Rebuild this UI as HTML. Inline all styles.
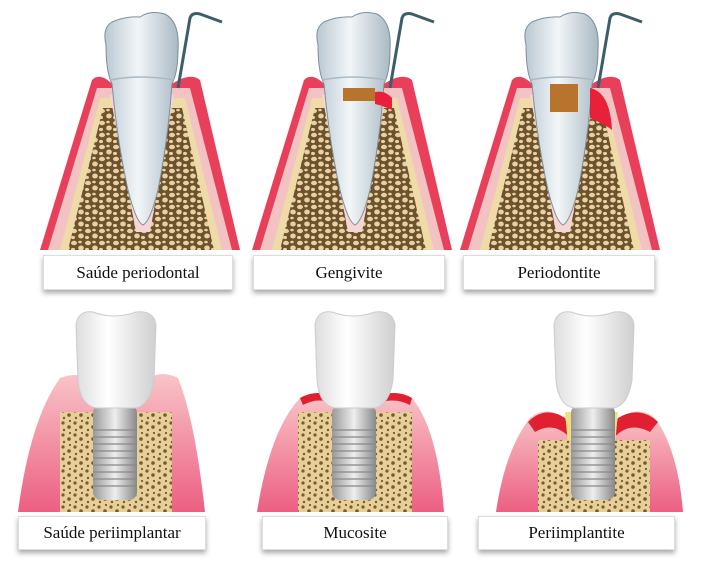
<!DOCTYPE html>
<html><head><meta charset="utf-8"><style>
body{margin:0;background:#fff;width:711px;height:562px;overflow:hidden;position:relative;font-family:"Liberation Serif",serif}
.lb{position:absolute;background:#fff;border:1px solid #ddd;box-shadow:0 3px 5px rgba(0,0,0,.35);font-size:17px;color:#111;text-align:center;box-sizing:border-box}
</style></head><body>
<svg width="711" height="562" style="position:absolute;left:0;top:0">
<defs>
<pattern id="bone" width="14" height="12" patternUnits="userSpaceOnUse">
<rect width="14" height="12" fill="#6e5230"/>
<ellipse cx="4" cy="3" rx="3" ry="2.2" fill="#e8d3a0"/><ellipse cx="11" cy="8" rx="2.8" ry="2.5" fill="#e8d3a0"/><ellipse cx="3" cy="9.5" rx="2" ry="1.6" fill="#e8d3a0"/><ellipse cx="10" cy="2" rx="1.8" ry="1.3" fill="#e8d3a0"/>
</pattern>
<pattern id="bone2" width="12" height="12" patternUnits="userSpaceOnUse">
<rect width="12" height="12" fill="#e6cf98"/>
<circle cx="3" cy="3" r="1.6" fill="#7a5a2e"/><circle cx="9" cy="7" r="1.8" fill="#7a5a2e"/><circle cx="4" cy="10" r="1.2" fill="#7a5a2e"/><circle cx="10" cy="1" r="1.1" fill="#7a5a2e"/>
</pattern>
<linearGradient id="tooth" x1="0" x2="1"><stop offset="0" stop-color="#b9c8d2"/><stop offset=".45" stop-color="#f2f6f8"/><stop offset="1" stop-color="#a9b9c4"/></linearGradient>
<linearGradient id="gum" x1="0" y1="0" x2="0" y2="1"><stop offset="0" stop-color="#f9c4c8"/><stop offset="1" stop-color="#ec5f82"/></linearGradient>
<linearGradient id="metal" x1="0" x2="1"><stop offset="0" stop-color="#999"/><stop offset=".5" stop-color="#eee"/><stop offset="1" stop-color="#888"/></linearGradient>
<linearGradient id="crown" x1="0" x2="1"><stop offset="0" stop-color="#ddd"/><stop offset=".4" stop-color="#fff"/><stop offset="1" stop-color="#cfcfcf"/></linearGradient>
<g id="top">
<path d="M40 250 L92 80 Q100 72 112 84 L172 84 Q190 72 200 80 L240 250 Z" fill="#e8405a"/>
<path d="M48 250 L97 88 L190 88 L232 250 Z" fill="#f3c2c3"/>
<path d="M60 250 L100 98 L185 98 L222 250 Z" fill="#eedba8"/>
<path d="M68 250 L103 108 L182 108 L214 250 Z" fill="url(#bone)"/>
<path d="M110 95 L174 95 L150 232 L136 232 Z" fill="#f6d5d5"/>
<path d="M106 45 Q102 28 112 22 Q125 16 140 17 Q150 10 165 14 Q180 22 178 50 Q178 72 172 84 Q168 140 158 190 Q150 222 143 225 Q136 222 128 190 Q117 140 112 84 Q106 72 106 45 Z" fill="url(#tooth)" stroke="#7c8f9a" stroke-width="1"/>
<path d="M110 80 Q140 74 174 80" fill="none" stroke="#a9b9c4" stroke-width="1.5"/>
<path d="M178 88 L190 18 Q192 12 200 14 L222 22" fill="none" stroke="#3d5d6a" stroke-width="3"/>
</g>
<g id="implant">
<rect x="75" y="105" width="44" height="95" rx="8" fill="url(#metal)"/>
<g stroke="#888" stroke-width="1.2"><line x1="75" y1="130" x2="119" y2="130"/><line x1="75" y1="137" x2="119" y2="137"/><line x1="75" y1="144" x2="119" y2="144"/><line x1="75" y1="151" x2="119" y2="151"/><line x1="75" y1="158" x2="119" y2="158"/><line x1="75" y1="165" x2="119" y2="165"/><line x1="75" y1="172" x2="119" y2="172"/><line x1="75" y1="179" x2="119" y2="179"/><line x1="75" y1="186" x2="119" y2="186"/></g>
<path d="M58 25 Q60 10 75 12 Q96 20 118 12 Q136 10 138 25 L136 80 Q132 105 118 108 L78 108 Q62 105 60 80 Z" fill="url(#crown)" stroke="#ccc"/>
</g>
</defs>
<use href="#top"/>
<use href="#top" transform="translate(212,0)"/>
<rect x="343" y="88" width="32" height="13" fill="#b8732d"/>
<path d="M375 92 Q385 90 392 98 L392 110 Q384 106 375 104Z" fill="#e8203a"/>
<use href="#top" transform="translate(420,0)"/>
<rect x="550" y="84" width="28" height="28" fill="#b8732d"/>
<path d="M590 88 Q610 92 612 130 Q606 125 590 118 Z" fill="#e8203a"/>

<!-- implant 1 -->
<path d="M18 512 Q30 420 60 378 Q75 372 90 378 L150 378 Q162 370 178 378 Q195 420 205 512 Z" fill="url(#gum)"/>
<rect x="60" y="412" width="112" height="100" fill="url(#bone2)"/>
<use href="#implant" transform="translate(18,300)"/>

<!-- implant 2 -->
<path d="M257 512 Q270 430 300 398 Q318 388 335 398 L375 398 Q395 388 412 398 Q438 430 444 512 Z" fill="url(#gum)"/>
<path d="M300 398 Q318 388 335 398 L335 405 Q320 396 303 405 Z" fill="#e02030"/>
<path d="M375 398 Q395 388 412 398 L410 405 Q392 396 375 405 Z" fill="#e02030"/>
<path d="M335 398 L345 410 L335 404Z M375 398 L365 410 L375 404Z" fill="#f5e27a"/>
<path d="M330 392 Q340 400 348 410 L336 410Z M380 392 Q370 400 362 410 L374 410Z" fill="#f3e07a"/>
<rect x="298" y="412" width="114" height="100" fill="url(#bone2)"/>
<use href="#implant" transform="translate(257,300)"/>

<!-- implant 3 -->
<path d="M496 512 Q505 450 530 418 Q545 405 565 418 L618 418 Q640 405 655 418 Q678 450 683 512 Z" fill="url(#gum)"/>
<path d="M528 422 Q545 405 565 418 L572 440 Q555 420 535 432 Z" fill="#e02030"/>
<path d="M658 422 Q640 405 618 418 L612 440 Q628 420 650 432 Z" fill="#e02030"/>
<path d="M565 412 L578 412 L578 445 L568 445 Z M618 412 L605 412 L605 445 L615 445 Z" fill="#f3e07a"/>
<rect x="538" y="440" width="112" height="72" fill="url(#bone2)"/>
<use href="#implant" transform="translate(496,300)"/>
</svg>
<div class="lb" style="left:43px;top:255px;width:190px;height:35px;line-height:33px">Saúde periodontal</div>
<div class="lb" style="left:253px;top:255px;width:192px;height:35px;line-height:33px">Gengivite</div>
<div class="lb" style="left:463px;top:255px;width:192px;height:35px;line-height:33px">Periodontite</div>
<div class="lb" style="left:18px;top:516px;width:188px;height:34px;line-height:32px">Saúde periimplantar</div>
<div class="lb" style="left:262px;top:516px;width:186px;height:34px;line-height:32px">Mucosite</div>
<div class="lb" style="left:478px;top:516px;width:197px;height:34px;line-height:32px">Periimplantite</div>
</body></html>
